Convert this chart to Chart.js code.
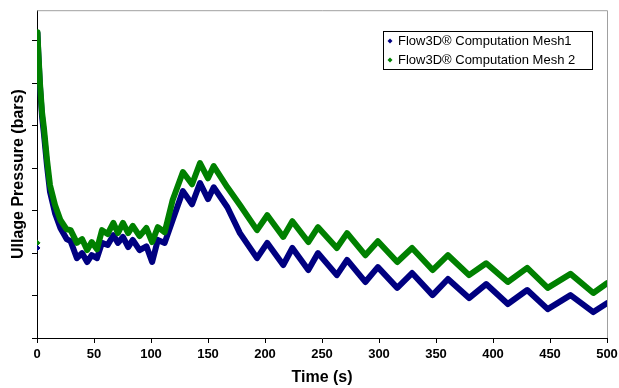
<!DOCTYPE html>
<html>
<head>
<meta charset="utf-8">
<script src="https://cdn.jsdelivr.net/npm/chart.js@4/dist/chart.umd.min.js"></script>
<style>
    body { margin: 0; background: #fff; }
    canvas { display: block; }
</style>
</head>
<body>
<canvas id="pressureChart" width="619" height="388"></canvas>
<script>
// time points (s)
const times = [0.4, 1.1, 2.6, 4.4, 6.1, 8.8, 11.4, 15.8, 20.5, 26, 29.5, 35, 39.5, 44, 48, 52.6, 57, 62, 67, 71,
    75.4, 80, 84, 90, 96, 101, 106, 112, 119, 128, 136, 143, 150, 155, 167, 178, 193, 202, 216, 224,
    238, 246.5, 263, 272, 288, 299, 316, 329, 347, 360.5, 379, 394, 413, 430, 448, 468, 488, 500];

const mesh1 = [7.18, 6.73, 5.93, 5.22, 4.80, 4.05, 3.44, 2.94, 2.59, 2.33, 2.28, 1.88, 2.00, 1.79, 1.95, 1.88, 2.24, 2.19, 2.42, 2.24,
    2.38, 2.14, 2.31, 2.07, 2.16, 1.79, 2.31, 2.24, 2.78, 3.46, 3.15, 3.65, 3.27, 3.55, 3.08, 2.47, 1.88, 2.24, 1.72, 2.12,
    1.60, 2.00, 1.48, 1.84, 1.32, 1.67, 1.18, 1.53, 1.01, 1.39, 0.94, 1.27, 0.80, 1.13, 0.68, 1.01, 0.61, 0.82];

const mesh2 = [7.20, 6.78, 6.00, 5.32, 4.94, 4.19, 3.60, 3.13, 2.78, 2.56, 2.54, 2.24, 2.33, 2.07, 2.26, 2.09, 2.54, 2.45, 2.71, 2.47,
    2.71, 2.47, 2.64, 2.40, 2.59, 2.26, 2.61, 2.49, 3.25, 3.91, 3.62, 4.12, 3.76, 4.05, 3.55, 3.13, 2.54, 2.89, 2.38, 2.75,
    2.26, 2.61, 2.12, 2.47, 1.95, 2.28, 1.79, 2.12, 1.60, 1.95, 1.48, 1.76, 1.32, 1.65, 1.18, 1.51, 1.06, 1.29];

// single starting sample at t = 0
const startTime = [0];
const startMesh1 = [2.12];
const startMesh2 = [2.24];

const seriesNames = ["Flow3D® Computation Mesh1", "Flow3D® Computation Mesh 2"];
const xTicks = [0, 50, 100, 150, 200, 250, 300, 350, 400, 450, 500];

const BLUE = "#000080";
const GREEN = "#008000";

function toPoints(xs, ys) {
    return xs.map((x, i) => ({ x: x, y: ys[i] }));
}

// gray frame on top and right of plot area + legend box
const framePlugin = {
    id: "frame",
    beforeDatasetsDraw(chart) {
        const { ctx, chartArea: a } = chart;
        ctx.save();
        ctx.strokeStyle = "#a0a0a0";
        ctx.lineWidth = 1;
        ctx.beginPath();
        ctx.moveTo(a.left, a.top + 0.5);
        ctx.lineTo(a.right + 0.5, a.top + 0.5);
        ctx.lineTo(a.right + 0.5, a.bottom);
        ctx.stroke();
        ctx.restore();
    },
    afterDraw(chart) {
        const ctx = chart.ctx;
        const bx = 383, by = 31, bw = 209, bh = 38;
        ctx.save();
        ctx.fillStyle = "#fff";
        ctx.fillRect(bx, by, bw, bh);
        ctx.strokeStyle = "#000";
        ctx.lineWidth = 1;
        ctx.strokeRect(bx + 0.5, by + 0.5, bw, bh);
        ctx.font = "13px 'Liberation Sans', Arial, sans-serif";
        ctx.textBaseline = "middle";
        const colors = [BLUE, GREEN];
        seriesNames.forEach((name, i) => {
            const y = by + 10 + i * 19;
            ctx.fillStyle = colors[i];
            ctx.beginPath();
            ctx.moveTo(390, y - 2.5);
            ctx.lineTo(392.5, y);
            ctx.lineTo(390, y + 2.5);
            ctx.lineTo(387.5, y);
            ctx.closePath();
            ctx.fill();
            ctx.fillStyle = "#000";
            ctx.fillText(name, 398, y);
        });
        ctx.restore();
    }
};

new Chart(document.getElementById("pressureChart"), {
    type: "line",
    data: {
        datasets: [
            {
                label: seriesNames[0],
                data: toPoints(times, mesh1),
                borderColor: BLUE,
                backgroundColor: BLUE,
                borderWidth: 6,
                pointRadius: 0,
                borderJoinStyle: "round",
                borderCapStyle: "round",
                tension: 0,
                order: 2
            },
            {
                label: seriesNames[1],
                data: toPoints(times, mesh2),
                borderColor: GREEN,
                backgroundColor: GREEN,
                borderWidth: 6,
                pointRadius: 0,
                borderJoinStyle: "round",
                borderCapStyle: "round",
                tension: 0,
                order: 1
            },
            {
                label: "start1",
                data: toPoints(startTime, startMesh1),
                showLine: false,
                pointStyle: "rectRot",
                pointRadius: 3,
                backgroundColor: BLUE,
                borderColor: BLUE,
                order: 0
            },
            {
                label: "start2",
                data: toPoints(startTime, startMesh2),
                showLine: false,
                pointStyle: "rectRot",
                pointRadius: 3,
                backgroundColor: GREEN,
                borderColor: GREEN,
                order: 0
            }
        ]
    },
    options: {
        responsive: false,
        animation: false,
        layout: { padding: { top: 10, right: 12 } },
        plugins: {
            legend: { display: false },
            tooltip: { enabled: false }
        },
        scales: {
            x: {
                type: "linear",
                min: 0,
                max: 500,
                afterBuildTicks(scale) {
                    scale.ticks = xTicks.map(v => ({ value: v }));
                },
                afterFit(scale) {
                    scale.height = 50;
                    scale.paddingRight = 12;
                    scale.paddingLeft = 0;
                },
                grid: {
                    drawOnChartArea: false,
                    drawTicks: true,
                    tickLength: 5,
                    color: "#000"
                },
                border: { display: true, color: "#000", width: 1 },
                ticks: {
                    color: "#000",
                    padding: 4,
                    maxRotation: 0,
                    font: { family: "'Liberation Sans', Arial", size: 13, weight: "bold" }
                },
                title: {
                    display: true,
                    text: "Time (s)",
                    color: "#000",
                    padding: { top: 0, bottom: 1 },
                    font: { family: "'Liberation Sans', Arial", size: 16, weight: "bold" }
                }
            },
            y: {
                min: 0,
                max: 7.72,
                afterFit(scale) { scale.width = 37; },
                grid: {
                    drawOnChartArea: false,
                    drawTicks: true,
                    tickLength: 5,
                    color: "#000"
                },
                border: { display: true, color: "#000", width: 1 },
                ticks: {
                    stepSize: 1,
                    includeBounds: false,
                    callback: () => ""
                },
                title: {
                    display: true,
                    text: "Ullage Pressure (bars)",
                    color: "#000",
                    padding: { top: 9, bottom: 0 },
                    font: { family: "'Liberation Sans', Arial", size: 16, weight: "bold" }
                }
            }
        }
    },
    plugins: [framePlugin]
});
</script>
</body>
</html>
